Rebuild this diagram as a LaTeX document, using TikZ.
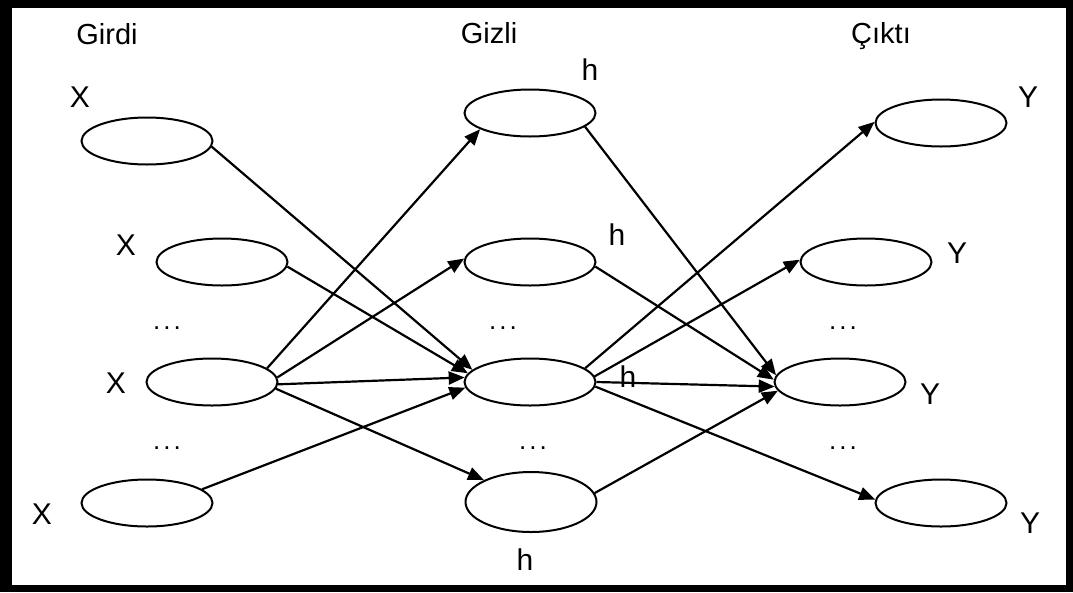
\documentclass[tikz,border=0pt]{standalone}
\usepackage{fontspec}
\setmainfont{Liberation Sans}
\usetikzlibrary{shapes.geometric,arrows.meta}
\begin{document}
\begin{tikzpicture}[x=1pt,y=-1pt,
  neuron/.style={draw=black,line width=2pt,ellipse,inner sep=0pt,minimum width=131pt,minimum height=47pt},
  conn/.style={line width=2.2pt,-{Triangle[length=16pt,width=13pt]}},
  title/.style={anchor=base,inner sep=0pt,font=\fontsize{29}{32}\selectfont},
  lab/.style={anchor=base,inner sep=0pt,font=\fontsize{30}{34}\selectfont},
  dots/.style={anchor=base,inner sep=0pt,font=\fontsize{26}{30}\selectfont}]
\useasboundingbox (0,0) rectangle (1073,592);
\fill[black] (0,0) rectangle (1073,592);
\fill[white] (12,8) rectangle (1066,585);
% titles
\node[title] (tin) at (107,44) {Girdi};
\node[title] (thid) at (489,43) {Gizli};
\node[title] (tout) at (881,43) {Çıktı};
% input layer
\node[neuron] (I1) at (147,141) {};
\node[neuron] (I2) at (222,262) {};
\node[neuron] (I3) at (212,382) {};
\node[neuron] (I4) at (147,503) {};
% hidden layer
\node[neuron] (H1) at (530,113) {};
\node[neuron] (H2) at (530,262) {};
\node[neuron] (H3) at (530,382) {};
\node[neuron,minimum height=60pt] (H4) at (531,502) {};
% output layer
\node[neuron] (O1) at (941,123) {};
\node[neuron] (O2) at (866,262) {};
\node[neuron] (O3) at (840,382) {};
\node[neuron] (O4) at (941,503) {};
% labels
\node[lab] (xl1) at (80,107) {X};
\node[lab] (xl2) at (126,255) {X};
\node[lab] (xl3) at (116,393) {X};
\node[lab] (xl4) at (42,524) {X};
\node[lab] (hl1) at (590,80) {h};
\node[lab] (hl2) at (617,245) {h};
\node[lab] (hl3) at (628,387) {h};
\node[lab] (hl4) at (525,570) {h};
\node[lab] (yl1) at (1028,107) {Y};
\node[lab] (yl2) at (957,263) {Y};
\node[lab] (yl3) at (930,404) {Y};
\node[lab] (yl4) at (1030,533) {Y};
% dots
\newcommand{\mydots}{.\hspace{3pt}.\hspace{3pt}.}
\node[dots] (d1) at (167,329) {\mydots};
\node[dots] (d2) at (167,449) {\mydots};
\node[dots] (d3) at (503,329) {\mydots};
\node[dots] (d4) at (533,449) {\mydots};
\node[dots] (d5) at (843,329) {\mydots};
\node[dots] (d6) at (843,449) {\mydots};
% input -> hidden
\draw[conn] (I1.-5) -- (H3.168);
\draw[conn] (I2.-4) -- (H3.172);
\draw[conn] (I3.14) -- (H1.198);
\draw[conn] (I3.4) -- (H2.177);
\draw[conn] (I3.-2) -- (H3.176);
\draw[conn] (I3.-6) -- (H4.155);
\draw[conn] (I4.14) -- (H3.185);
% hidden -> output
\draw[conn] (H1.-14) -- (O3.174);
\draw[conn] (H2.-4) -- (O3.178);
\draw[conn] (H3.14) -- (O1.179);
\draw[conn] (H3.5) -- (O2.178);
\draw[conn] (H3.0) -- (O3.184);
\draw[conn] (H3.-4) -- (O4.177);
\draw[conn] (H4.8) -- (O3.188);
\end{tikzpicture}
\end{document}
